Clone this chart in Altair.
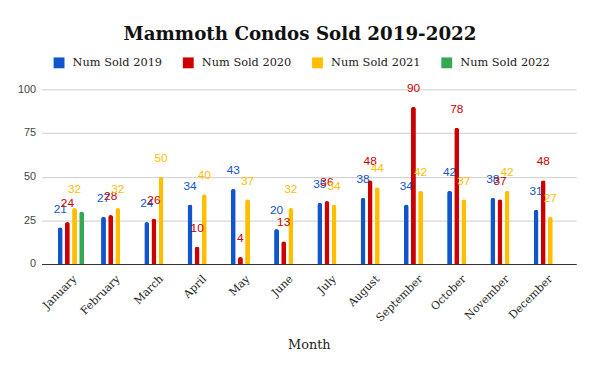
import altair as alt
import pandas as pd

months = ["January", "February", "March", "April", "May", "June", "July",
          "August", "September", "October", "November", "December"]
series = ["Num Sold 2019", "Num Sold 2020", "Num Sold 2021", "Num Sold 2022"]
colors = ["#1155cc", "#cc0000", "#ffbf00", "#34a853"]

sold_2019 = [21, 27, 24, 34, 43, 20, 35, 38, 34, 42, 38, 31]
sold_2020 = [24, 28, 26, 10, 4, 13, 36, 48, 90, 78, 37, 48]
sold_2021 = [32, 32, 50, 40, 37, 32, 34, 44, 42, 37, 42, 27]
sold_2022 = [30, None, None, None, None, None, None, None, None, None, None, None]

rows = []
for s, vals in zip(series, [sold_2019, sold_2020, sold_2021, sold_2022]):
    for m, v in zip(months, vals):
        if v is not None:
            rows.append({"Month": m, "Series": s, "Value": v})
df = pd.DataFrame(rows)

serif = "DejaVu Serif"
sans = "Liberation Sans"

x = alt.X("Month:N", sort=months,
          scale=alt.Scale(paddingInner=0.34, paddingOuter=0.35),
          axis=alt.Axis(labelAngle=-45, labelFont=serif, labelFontSize=11,
                        labelColor="#222", ticks=False, labelPadding=9,
                        domainColor="#333", domainWidth=1.2,
                        title="Month", titleFont=serif, titleFontSize=13,
                        titleFontWeight="normal", titleColor="#222",
                        titlePadding=16))
xo = alt.XOffset("Series:N", sort=series, scale=alt.Scale(domain=series))
color = alt.Color("Series:N", sort=series,
                  scale=alt.Scale(domain=series, range=colors),
                  legend=alt.Legend(orient="none", legendX=12, legendY=-33,
                                    direction="horizontal", columns=4,
                                    title=None, symbolType="square",
                                    symbolSize=121, symbolStrokeWidth=0,
                                    labelFont=serif, labelFontSize=11.5,
                                    labelColor="#222", columnPadding=20,
                                    labelOffset=8))
y = alt.Y("Value:Q", scale=alt.Scale(domain=[0, 100]),
          axis=alt.Axis(values=[0, 25, 50, 75, 100], title=None,
                        labelFont=sans, labelFontSize=11, labelColor="#444",
                        gridColor="#cccccc", domain=False, ticks=False,
                        labelPadding=6))

base = alt.Chart(df)
bars = base.mark_bar(width=5, cornerRadiusTopLeft=2.5,
                     cornerRadiusTopRight=2.5).encode(
    x=x, xOffset=xo, y=y, color=color)

lab = base.transform_filter(alt.datum.Series != "Num Sold 2022")
txt = lab.mark_text(font=sans, fontSize=12, baseline="middle", dy=-19).encode(
    x=alt.X("Month:N", sort=months), xOffset=xo, y="Value:Q",
    text="Value:Q",
    color=alt.Color("Series:N", sort=series,
                    scale=alt.Scale(domain=series, range=colors),
                    legend=None))

chart = alt.layer(bars, txt).properties(
    width=542, height=177,
    autosize=alt.AutoSizeParams(type="none"),
    padding={"left": 34, "top": 80, "right": 16, "bottom": 106},
    title=alt.TitleParams("Mammoth Condos Sold 2019-2022", font=serif,
                          fontSize=18.5, fontWeight="bold", color="#111",
                          anchor="middle", dx=-9, offset=14)
).configure_view(stroke=None)

chart.save("out.html", embed_options={"renderer": "svg", "actions": False})
